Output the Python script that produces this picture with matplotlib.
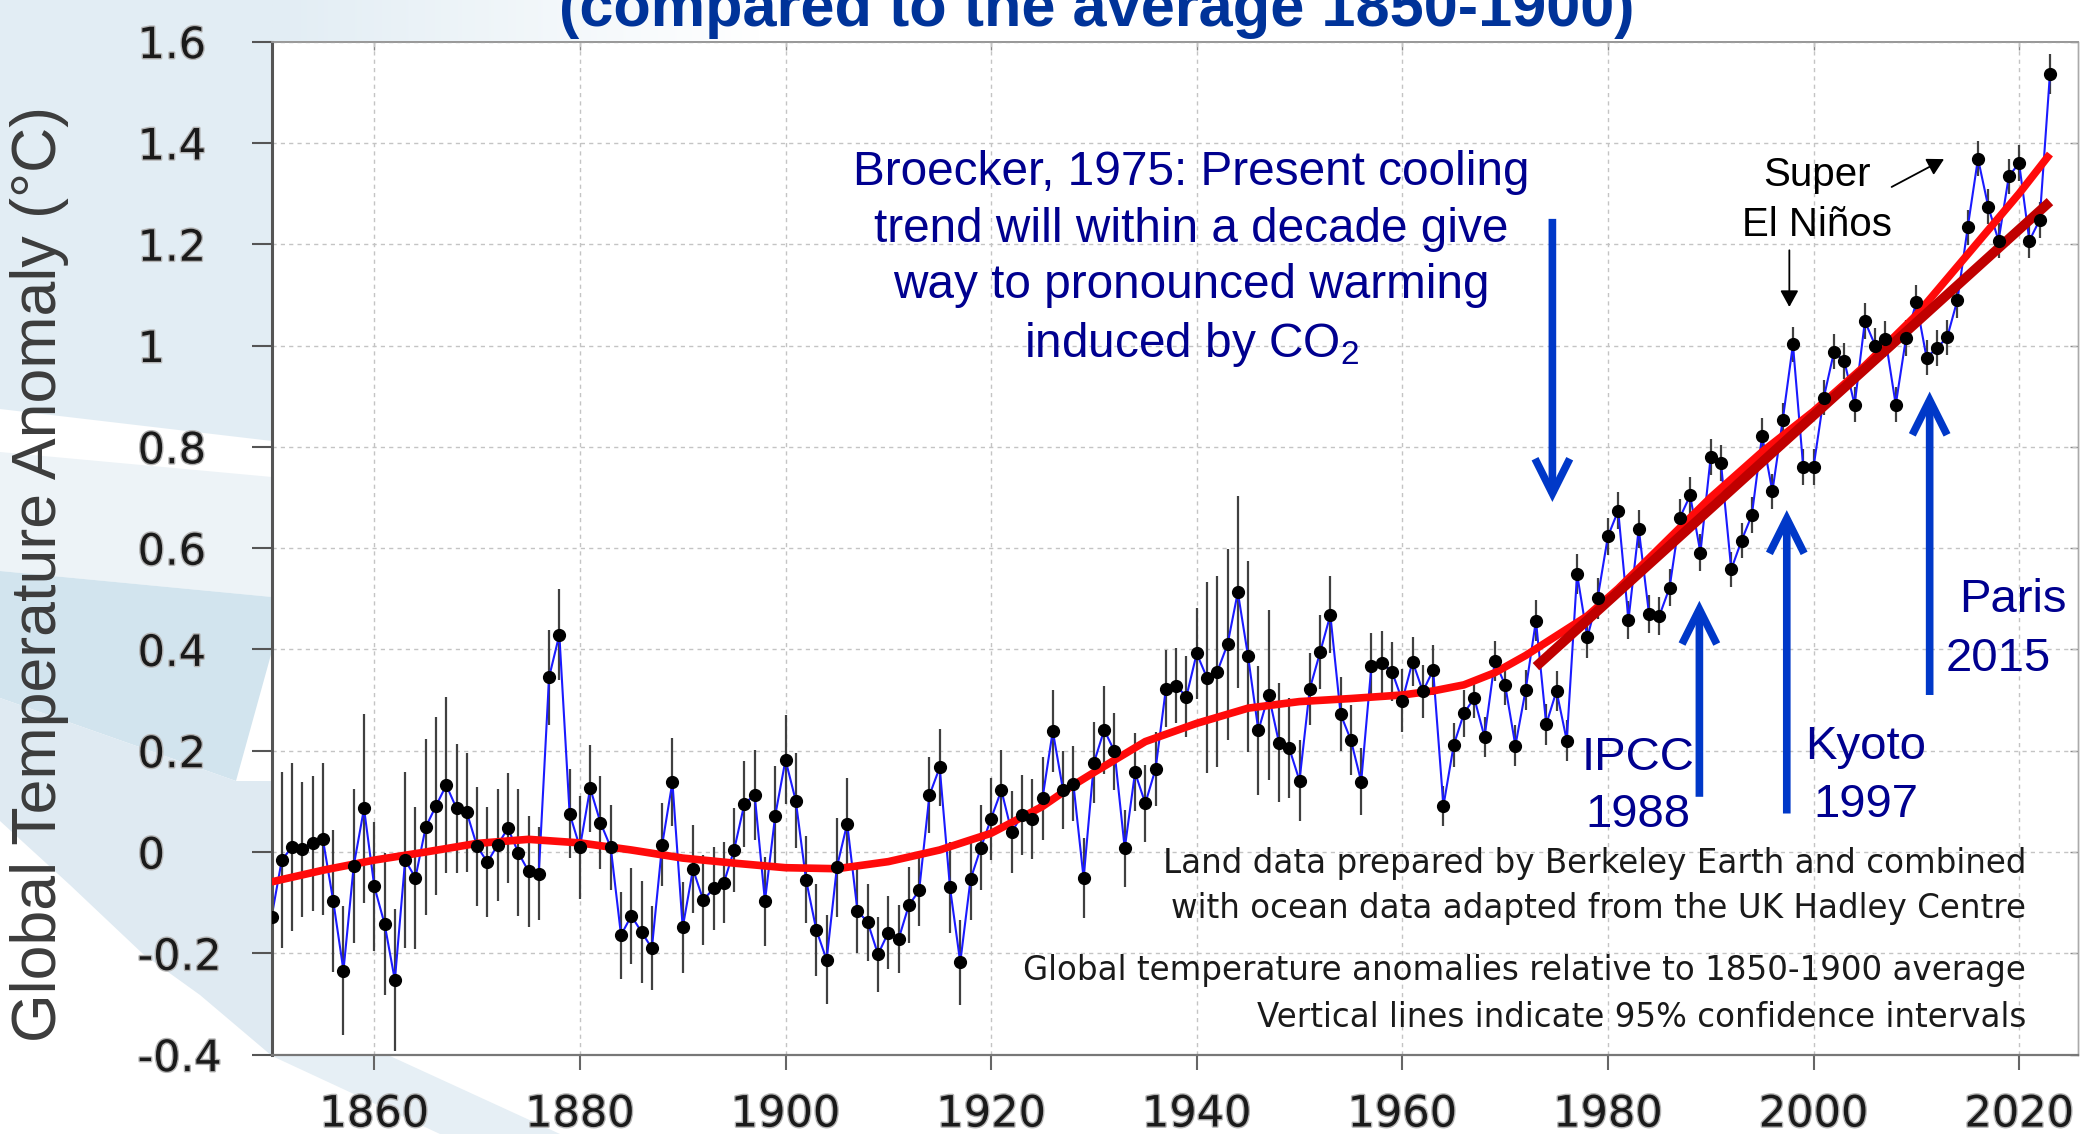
import numpy as np
import matplotlib
matplotlib.use("Agg")
import matplotlib.pyplot as plt
from matplotlib import font_manager
from matplotlib.patches import Polygon
from matplotlib.colors import LinearSegmentedColormap
import matplotlib.patheffects as pe

# ---------------- data ----------------
years = list(range(1850, 2024))
anomaly = [
    -0.129, -0.016, 0.010, 0.005, 0.017, 0.025, -0.096, -0.234, -0.027, 0.086,   # 1850s
    -0.068, -0.142, -0.253, -0.016, -0.051, 0.049, 0.091, 0.132, 0.086, 0.078,   # 1860s
    0.011, -0.020, 0.014, 0.047, -0.001, -0.038, -0.043, 0.345, 0.429, 0.076,    # 1870s
    0.009, 0.126, 0.058, 0.009, -0.164, -0.126, -0.158, -0.190, 0.014, 0.138,    # 1880s
    -0.149, -0.034, -0.095, -0.072, -0.061, 0.004, 0.095, 0.113, -0.097, 0.072,  # 1890s
    0.182, 0.101, -0.055, -0.154, -0.213, -0.030, 0.056, -0.116, -0.139, -0.202, # 1900s
    -0.159, -0.172, -0.105, -0.076, 0.112, 0.167, -0.070, -0.218, -0.054, 0.008, # 1910s
    0.066, 0.122, 0.039, 0.073, 0.065, 0.106, 0.239, 0.122, 0.135, -0.052,       # 1920s
    0.176, 0.241, 0.199, 0.007, 0.157, 0.096, 0.164, 0.322, 0.328, 0.307,        # 1930s
    0.392, 0.344, 0.356, 0.410, 0.513, 0.386, 0.240, 0.310, 0.216, 0.205,        # 1940s
    0.141, 0.322, 0.394, 0.468, 0.272, 0.221, 0.139, 0.368, 0.374, 0.356,        # 1950s
    0.299, 0.376, 0.317, 0.359, 0.091, 0.211, 0.274, 0.304, 0.227, 0.377,        # 1960s
    0.330, 0.210, 0.320, 0.457, 0.252, 0.318, 0.220, 0.549, 0.424, 0.501,        # 1970s
    0.623, 0.674, 0.458, 0.638, 0.470, 0.466, 0.522, 0.660, 0.704, 0.591,        # 1980s
    0.780, 0.768, 0.558, 0.615, 0.665, 0.822, 0.712, 0.852, 1.002, 0.760,        # 1990s
    0.760, 0.897, 0.988, 0.969, 0.883, 1.048, 1.000, 1.013, 0.883, 1.015,        # 2000s
    1.085, 0.976, 0.995, 1.016, 1.090, 1.233, 1.369, 1.274, 1.207, 1.334,        # 2010s
    1.360, 1.207, 1.248, 1.536,                                                  # 2020s
]
uncertainty = [
    0.170, 0.174, 0.166, 0.133, 0.133, 0.150, 0.140, 0.127, 0.152, 0.186,
    0.128, 0.141, 0.140, 0.174, 0.140, 0.174, 0.176, 0.174, 0.128, 0.117,
    0.118, 0.109, 0.110, 0.108, 0.125, 0.110, 0.092, 0.094, 0.090, 0.087,
    0.102, 0.086, 0.092, 0.084, 0.086, 0.095, 0.100, 0.083, 0.082, 0.087,
    0.090, 0.087, 0.089, 0.082, 0.080, 0.083, 0.085, 0.089, 0.088, 0.098,
    0.088, 0.094, 0.086, 0.091, 0.088, 0.098, 0.091, 0.084, 0.076, 0.074,
    0.072, 0.067, 0.075, 0.070, 0.075, 0.076, 0.090, 0.084, 0.080, 0.084,
    0.081, 0.080, 0.081, 0.079, 0.079, 0.082, 0.081, 0.077, 0.074, 0.079,
    0.080, 0.087, 0.076, 0.076, 0.077, 0.076, 0.073, 0.076, 0.074, 0.079,
    0.090, 0.189, 0.189, 0.188, 0.190, 0.188, 0.127, 0.167, 0.117, 0.099,
    0.080, 0.071, 0.073, 0.076, 0.073, 0.069, 0.066, 0.064, 0.062, 0.058,
    0.063, 0.049, 0.053, 0.050, 0.039, 0.043, 0.046, 0.039, 0.040, 0.040,
    0.040, 0.040, 0.040, 0.040, 0.040, 0.040, 0.040, 0.040, 0.040, 0.040,
    0.037, 0.037, 0.037, 0.037, 0.037, 0.037, 0.037, 0.037, 0.037, 0.037,
    0.035, 0.035, 0.035, 0.035, 0.035, 0.035, 0.035, 0.035, 0.035, 0.035,
    0.035, 0.035, 0.035, 0.035, 0.035, 0.035, 0.035, 0.035, 0.035, 0.035,
    0.035, 0.035, 0.035, 0.035, 0.035, 0.035, 0.035, 0.035, 0.035, 0.035,
    0.035, 0.035, 0.035, 0.040,
]
smooth_years = [1850, 1855, 1860, 1865, 1870, 1875, 1880, 1885, 1890, 1895,
                1900, 1905, 1910, 1915, 1920, 1925, 1928, 1930, 1935, 1940,
                1945, 1950, 1955, 1960, 1963, 1966, 1969, 1972, 1975, 1978,
                1981, 1985, 1990, 1995, 2000, 2005, 2010, 2015, 2020, 2023]
smooth_values = [-0.059, -0.036, -0.016, 0.000, 0.017, 0.025, 0.018, 0.004, -0.012, -0.022,
                 -0.031, -0.033, -0.019, 0.004, 0.037, 0.090, 0.132, 0.157, 0.218, 0.254,
                 0.284, 0.297, 0.303, 0.310, 0.318, 0.330, 0.354, 0.388, 0.427, 0.466,
                 0.520, 0.600, 0.700, 0.790, 0.870, 0.960, 1.060, 1.180, 1.300, 1.378]
trend_years = [1973, 2023]
trend_values = [0.366, 1.284]

xtick_values = [1860, 1880, 1900, 1920, 1940, 1960, 1980, 2000, 2020]
xtick_labels = ["1860", "1880", "1900", "1920", "1940", "1960", "1980", "2000", "2020"]
ytick_values = [1.6, 1.4, 1.2, 1.0, 0.8, 0.6, 0.4, 0.2, 0.0, -0.2, -0.4]
ytick_labels = ["1.6", "1.4", "1.2", "1", "0.8", "0.6", "0.4", "0.2", "0", "-0.2", "-0.4"]

title_text = "(compared to the average 1850-1900)"
ylabel_text = "Global Temperature Anomaly (°C)"
broecker_lines = ["Broecker, 1975: Present cooling",
                  "trend will within a decade give",
                  "way to pronounced warming",
                  r"induced by CO$_{\mathregular{2}}$"]
event_names = ["IPCC", "Kyoto", "Paris"]
event_years = ["1988", "1997", "2015"]
notes_lines = ["Land data prepared by Berkeley Earth and combined",
               "with ocean data adapted from the UK Hadley Centre",
               "Global temperature anomalies relative to 1850-1900 average",
               "Vertical lines indicate 95% confidence intervals"]

# ---------------- fonts ----------------
avail = {f.name for f in font_manager.fontManager.ttflist}
ARIAL = "Liberation Sans" if "Liberation Sans" in avail else "DejaVu Sans"
NARROW = "Liberation Sans Narrow" if "Liberation Sans Narrow" in avail else ARIAL
plt.rcParams["font.family"] = ["DejaVu Sans"]

W, H, DPI = 2082, 1134, 100
fig = plt.figure(figsize=(W / DPI, H / DPI), dpi=DPI)
renderer = fig.canvas.get_renderer()


def fit_width(t, target):
    w = t.get_window_extent(renderer).width
    t.set_fontsize(t.get_fontsize() * target / w)
    return t.get_fontsize()


# ---------------- background decoration ----------------
bg = fig.add_axes([0, 0, 1, 1], zorder=-10)
bg.set_xlim(0, W)
bg.set_ylim(H, 0)
bg.axis("off")
shapes = [
    ([(0, 0), (272, 0), (272, 441), (0, 409)], "#e2edf4"),
    ([(0, 452), (272, 477), (272, 597), (0, 571)], "#edf3f7"),
    ([(0, 571), (272, 597), (272, 651), (236, 781), (0, 698)], "#d2e4ee"),
    ([(0, 698), (236, 781), (272, 781), (272, 1056), (200, 995), (143, 954),
      (70, 885), (0, 821)], "#dfeaf2"),
    ([(272, 1056), (390, 1056), (560, 1134), (440, 1134)], "#e6eff5"),
]
for pts, col in shapes:
    bg.add_patch(Polygon(pts, closed=True, facecolor=col, edgecolor="none"))
grad = np.linspace(0, 1, 200)[None, :]
cmap = LinearSegmentedColormap.from_list("fade", ["#e2edf4", "#ffffff"])
bg.imshow(grad, extent=(272, 760, 41, 0), cmap=cmap, aspect="auto")

# ---------------- main axes ----------------
left_px, right_px, top_px, bottom_px = 271.5, 2078, 41.6, 1054.6
ax = fig.add_axes([left_px / W, 1 - bottom_px / H, (right_px - left_px) / W,
                   (bottom_px - top_px) / H])
ax.set_facecolor("white")
ax.set_xlim(1850, 1850 + (right_px - left_px) / 10.28)
ax.set_ylim(-0.4, 1.6)

ax.errorbar(years, anomaly, yerr=uncertainty, fmt="none", ecolor="#404040",
            elinewidth=1.6, capsize=0, zorder=2)
ax.plot(years, anomaly, color="#1a1aff", lw=1.5, zorder=2.5)
ax.plot(smooth_years, smooth_values, color="#ff0a0a", lw=5.5, zorder=3,
        solid_capstyle="butt", solid_joinstyle="round")
ax.plot(trend_years, trend_values, color="#c00000", lw=7, zorder=3.2,
        solid_capstyle="butt")
ax.plot(years, anomaly, "o", color="black", ms=8.5, zorder=4)

ax.set_xticks(xtick_values)
ax.set_xticklabels(xtick_labels)
ax.set_yticks(ytick_values)
ax.set_yticklabels(ytick_labels)
ax.grid(True, color="#c4c4c4", ls=(0, (3, 3)), lw=1.0)
ax.set_axisbelow(True)
tick_fx = [pe.withStroke(linewidth=2.0, foreground="#b5b5b5")]
ax.tick_params(axis="x", direction="out", length=11, width=1.5, color="#666666",
               pad=17, labelsize=31, labelcolor="#1a1a1a")
ax.tick_params(axis="y", direction="out", length=14.4, width=1.5, color="#555555",
               pad=82, labelsize=31, labelcolor="#1a1a1a")
for lbl in ax.get_yticklabels():
    lbl.set_horizontalalignment("left")
    lbl.set_path_effects(tick_fx)
for lbl in ax.get_xticklabels():
    lbl.set_path_effects(tick_fx)

ax.spines["left"].set(color="#555555", lw=2.2)
ax.spines["bottom"].set(color="#777777", lw=1.6)
ax.spines["top"].set(color="#999999", lw=1.3)
ax.spines["right"].set(color="#aaaaaa", lw=1.0)

sx = ax.secondary_xaxis("top")
sx.set_xticks(xtick_values)
sx.set_xticklabels([])
sx.tick_params(direction="in", length=6, width=1.0, color="#888888")
sx.spines["top"].set(color="#999999", lw=1.3)
sy = ax.secondary_yaxis("right")
sy.set_yticks(ytick_values)
sy.set_yticklabels([])
sy.tick_params(direction="in", length=6, width=1.0, color="#888888")
sy.spines["right"].set(color="#aaaaaa", lw=1.0)

# ---------------- annotations ----------------
NAVY = "#00008f"
ARROW_BLUE = "#0038c8"

# Broecker text
b_x = 1939.5
b_base = [1.317, 1.205, 1.093, 0.978]
btexts = [ax.text(b_x, y, s, ha="center", va="baseline", color=NAVY,
                  fontsize=32, family=ARIAL, zorder=6)
          for s, y in zip(broecker_lines, b_base)]
fs = fit_width(btexts[0], 677)
for t in btexts:
    t.set_fontsize(fs)

# blue arrows
arrow_x = [1974.6, 1988.9, 1997.4, 2011.3]
arrow_tail = [1.25, 0.109, 0.076, 0.310]
arrow_tip = [0.691, 0.496, 0.675, 0.909]
for x, y0, y1 in zip(arrow_x, arrow_tail, arrow_tip):
    ax.annotate("", xy=(x, y1), xytext=(x, y0),
                arrowprops=dict(arrowstyle="->, head_length=1.0, head_width=0.5",
                                color=ARROW_BLUE, lw=5.5, mutation_scale=25,
                                shrinkA=0, shrinkB=0, capstyle="butt",
                                joinstyle="miter"),
                zorder=6)

# event labels
ev_x1 = [1982.9, 2005.1, 2019.35]
ev_y1 = [0.162, 0.183, 0.473]
ev_x2 = [1982.9, 2005.1, 2018.0]
ev_y2 = [0.050, 0.070, 0.358]
for name, yr, x1, y1, x2, y2 in zip(event_names, event_years, ev_x1, ev_y1, ev_x2, ev_y2):
    ax.text(x1, y1, name, ha="center", va="baseline", color=NAVY, fontsize=34,
            family=ARIAL, zorder=6)
    ax.text(x2, y2, yr, ha="center", va="baseline", color=NAVY, fontsize=34,
            family=ARIAL, zorder=6)

# Super El Ninos
ax.text(2000.35, 1.315, "Super", ha="center", va="baseline", color="black",
        fontsize=29, family=ARIAL, zorder=6)
ax.text(2000.35, 1.216, "El Niños", ha="center", va="baseline", color="black",
        fontsize=29, family=ARIAL, zorder=6)
ax.annotate("", xy=(1997.65, 1.076), xytext=(1997.65, 1.188),
            arrowprops=dict(arrowstyle="-|>, head_length=1.0, head_width=0.55",
                            color="black", lw=1.3, mutation_scale=10,
                            shrinkA=0, shrinkB=0), zorder=6)
ax.annotate("", xy=(2012.7, 1.368), xytext=(2007.6, 1.313),
            arrowprops=dict(arrowstyle="-|>, head_length=1.0, head_width=0.55",
                            color="black", lw=1.3, mutation_scale=10,
                            shrinkA=0, shrinkB=0), zorder=6)

# bottom notes
n_x = 2020.7
n_base = [-0.042, -0.131, -0.253, -0.345]
ntexts = [ax.text(n_x, y, s, ha="right", va="baseline", color="#1a1a1a",
                  fontsize=23, zorder=6)
          for s, y in zip(notes_lines, n_base)]
fs = fit_width(ntexts[2], 1005)
for t in ntexts:
    t.set_fontsize(fs)

# title (cut off at top of figure, as in the original) and y label
tt = fig.text(1097 / W, 1 - 26 / H, title_text, ha="center", va="baseline",
              color="#003399", fontsize=40, fontweight="bold", family=ARIAL)
fit_width(tt, 1073)
yl = fig.text(40 / W, 1 - 574 / H, ylabel_text, rotation=90, ha="center",
              va="center", color="#3c3c3c", fontsize=40, family=NARROW)
h = yl.get_window_extent(renderer).height
yl.set_fontsize(yl.get_fontsize() * 936 / h)

fig.savefig("out.png", dpi=DPI)
